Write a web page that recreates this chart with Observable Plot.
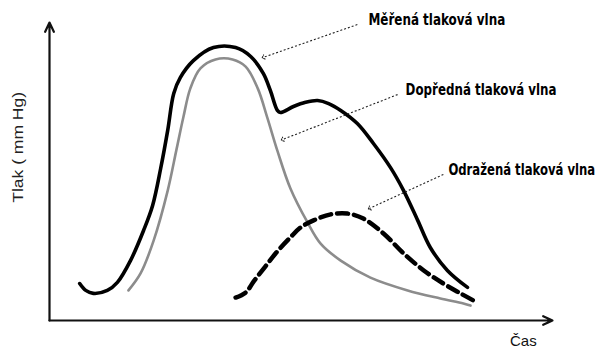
<!DOCTYPE html>
<html>
<head>
<meta charset="utf-8">
<script src="https://cdn.jsdelivr.net/npm/d3@7"></script>
<script src="https://cdn.jsdelivr.net/npm/@observablehq/plot@0.6"></script>
<style>
  html, body { margin: 0; padding: 0; background: #fff; }
  #chart svg { display: block; }
</style>
</head>
<body>
<div id="chart"></div>
<script>
// Time (0–100, arbitrary units) and pressure (0–100, arbitrary units)
const measuredT = [6.0, 7.2, 8.7, 11.5, 13.5, 16.1, 18.7, 20.5, 22.1, 23.5, 24.7, 26.0, 28.6, 32.6, 37.0, 40.0, 42.5, 43.9, 45.3, 45.9, 48.5, 50.9, 53.3, 55.5, 57.9, 61.2, 64.4, 67.8, 70.4, 73.2, 75.7, 79.1, 83.1];
const measuredP = [12.4, 10.1, 9.1, 10.1, 12.8, 20.1, 30.2, 38.6, 51.0, 63.8, 76.2, 81.5, 87.2, 91.6, 91.6, 88.6, 82.9, 77.2, 70.5, 69.8, 71.8, 73.2, 73.8, 72.8, 70.5, 66.1, 59.4, 51.3, 43.6, 33.6, 24.5, 16.8, 11.1];

const forwardT = [15.7, 18.1, 20.7, 23.5, 25.2, 26.6, 28.0, 30.0, 33.0, 36.4, 39.0, 41.4, 43.3, 45.3, 47.9, 51.3, 53.9, 57.9, 63.8, 71.2, 77.7, 82.3, 83.7];
const forwardP = [10.1, 15.8, 26.8, 43.6, 57.0, 68.1, 77.9, 84.6, 87.6, 87.6, 85.2, 77.9, 68.1, 57.0, 44.3, 32.9, 25.8, 20.1, 14.4, 10.1, 7.4, 5.7, 5.0];

const reflectedT = [37.0, 39.0, 40.6, 42.9, 45.3, 47.9, 49.9, 52.5, 55.9, 59.2, 62.4, 66.4, 70.4, 74.4, 78.3, 81.7, 84.3];
const reflectedP = [7.7, 9.4, 13.1, 18.1, 23.2, 27.9, 31.2, 33.6, 35.6, 35.9, 34.2, 29.2, 22.5, 16.8, 12.4, 9.1, 6.7];

// Annotation labels and their pointer lines
const labelText = ["Měřená tlaková vlna", "Dopředná tlaková vlna", "Odražená tlaková vlna"];
const labelT = [63.4, 70.8, 79.3];
const labelP = [100.7, 77.2, 50.3];
const pointerT1 = [61.2, 69.2, 78.3];
const pointerP1 = [99.3, 75.8, 49.0];
const pointerT2 = [42.5, 46.3, 63.6];
const pointerP2 = [88.3, 60.7, 37.6];

// Axis titles
const yTitle = "Tlak ( mm Hg)";
const xTitle = "Čas";

const toRows = (T, P) => T.map((t, i) => ({t, p: P[i]}));
const measured = toRows(measuredT, measuredP);
const forward = toRows(forwardT, forwardP);
const reflected = toRows(reflectedT, reflectedP);
const labels = labelText.map((s, i) => ({s, t: labelT[i], p: labelP[i]}));
const pointers = labelText.map((s, i) => ({x1: pointerT1[i], y1: pointerP1[i], x2: pointerT2[i], y2: pointerP2[i]}));

const labelFont = "'Liberation Sans Narrow', 'DejaVu Sans Condensed', 'Liberation Sans', sans-serif";

const chart = Plot.plot({
  width: 600,
  height: 348,
  marginLeft: 49,
  marginRight: 48,
  marginTop: 22,
  marginBottom: 28,
  x: {domain: [0, 100], axis: null},
  y: {domain: [0, 100], axis: null},
  style: {background: "#fff", overflow: "visible"},
  marks: [
    // axes with arrowheads
    Plot.arrow([{x1: 0, y1: 0, x2: 0, y2: 100}, {x1: 0, y1: 0, x2: 100, y2: 0}], {
      x1: "x1", y1: "y1", x2: "x2", y2: "y2",
      stroke: "#111", strokeWidth: 2.2, headLength: 7, headAngle: 50
    }),
    // forward wave (gray)
    Plot.line(forward, {x: "t", y: "p", stroke: "#8c8c8c", strokeWidth: 2.6, curve: "catmull-rom"}),
    // reflected wave (dashed)
    Plot.line(reflected, {x: "t", y: "p", stroke: "#000", strokeWidth: 4.5, strokeDasharray: "11,6", curve: "catmull-rom"}),
    // measured wave (black)
    Plot.line(measured, {x: "t", y: "p", stroke: "#000", strokeWidth: 3.6, curve: "catmull-rom", strokeLinejoin: "round"}),
    // pointer lines
    Plot.link(pointers, {
      x1: "x1", y1: "y1", x2: "x2", y2: "y2",
      stroke: "#222", strokeWidth: 1.1, strokeDasharray: "2,2", markerEnd: "arrow"
    }),
    // annotation labels
    Plot.text(labels, {
      x: "t", y: "p", text: "s", textAnchor: "start",
      fontSize: 15, fontWeight: "bold", fontFamily: labelFont, fill: "#000"
    }),
    // axis titles
    Plot.text([yTitle], {x: -6.2, y: 58.1, text: d => d, rotate: -90, fontSize: 15, fontFamily: "Liberation Sans, Arial, sans-serif", fill: "#222"}),
    Plot.text([xTitle], {x: 94.2, y: -6.9, text: d => d, fontSize: 15, fontFamily: "Liberation Sans, Arial, sans-serif", fill: "#111"})
  ]
});
document.getElementById("chart").append(chart);

// squeeze the bold labels horizontally to the narrow width of the original typeface
const targetWidths = {"Měřená tlaková vlna": 137, "Dopředná tlaková vlna": 151, "Odražená tlaková vlna": 147, "Tlak ( mm Hg)": 111};
d3.select(chart).selectAll("text").each(function() {
  const w = targetWidths[this.textContent];
  if (!w) return;
  const natural = this.getComputedTextLength();
  if (!natural) return;
  const sx = w / natural;
  // the scale must act along the text's own direction, after translate/rotate
  const el = this.getAttribute("transform") != null ? this : this.parentNode;
  const t = this.getAttribute("transform");
  if (t != null) {
    this.setAttribute("transform", `${t} scale(${sx},1)`);
  } else {
    const x = +this.getAttribute("x") || 0, y = +this.getAttribute("y") || 0;
    this.removeAttribute("x"); this.removeAttribute("y");
    this.setAttribute("transform", `translate(${x},${y}) scale(${sx},1)`);
  }
});
</script>
</body>
</html>
